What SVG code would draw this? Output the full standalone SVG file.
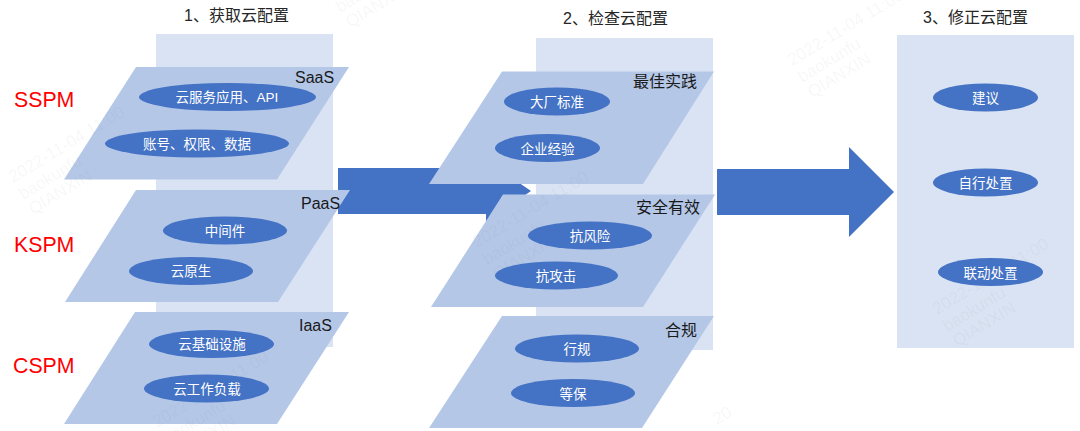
<svg xmlns="http://www.w3.org/2000/svg" width="1080" height="431" viewBox="0 0 1080 431">
<style>
text{font-family:"Liberation Sans","Noto Sans CJK SC",sans-serif}
.panel{fill:#dae3f3}
.plane{fill:#b4c7e7}
.oval{fill:#4472c4}
.arrow{fill:#4472c4}
.otxt{font-size:13.500px;fill:#fff;text-anchor:middle}
.title{font-size:16px;fill:#262626}
.lbl{font-size:16px;fill:#1a1a1a}
.pm{font-size:21.300px;fill:#ff0000}
.wm{font-size:17px;fill:#808080;fill-opacity:.07}
</style>
<defs>
<g id="mark">
<text class="wm" transform="rotate(-31)">2022-11-04 11:00</text>
<text class="wm" transform="translate(10 17) rotate(-31)">baokunfu</text>
<text class="wm" transform="translate(20 32) rotate(-31)">QIANXIN</text>
</g>
</defs>
<rect id="panel1" class="panel" x="156" y="34" width="177" height="313"/>
<rect id="panel2" class="panel" x="536" y="38" width="177" height="312"/>
<rect id="panel3" class="panel" x="897" y="35" width="177" height="313"/>
<g id="connectors">
<polygon class="arrow" points="338,168 486,168 486,160 531,191 486,222 486,214 338,214"/>
<polygon class="arrow" points="717,169 849,169 849,147 894,192 849,237 849,215 717,215"/>
</g>
<g id="saas"><polygon class="plane" points="136,67 349,67 277,179.500 64,179.500"/><text class="lbl" x="295" y="83">SaaS</text></g>
<g id="paas"><polygon class="plane" points="136,190 350,190 278,302 65,302"/><text class="lbl" x="301" y="209">PaaS</text></g>
<g id="iaas"><polygon class="plane" points="135,312 349,312 277,424 64,424"/><text class="lbl" x="299" y="331">IaaS</text></g>
<g id="best"><polygon class="plane" points="502,71.500 714,71.500 643,184 429,184"/><text class="lbl" x="633" y="87">最佳实践</text></g>
<g id="safe"><polygon class="plane" points="503,194.500 715,194.500 643,307 431,307"/><text class="lbl" x="636" y="213">安全有效</text></g>
<g id="comply"><polygon class="plane" points="502,316 714,316 642,428 429,428"/><text class="lbl" x="665" y="336">合规</text></g>
<g id="watermarks">
<use href="#mark" x="13" y="183"/>
<use href="#mark" x="330" y="-4"/>
<use href="#mark" x="477" y="248"/>
<use href="#mark" x="792" y="66"/>
<use href="#mark" x="937" y="315"/>
<use href="#mark" x="157" y="428"/>
<text class="wm" transform="translate(717 425) rotate(-31)">20</text>
</g>
<g id="n1"><ellipse class="oval" cx="227.500" cy="97" rx="88.500" ry="14"/><text class="otxt" x="227" y="101.500">云服务应用、API</text></g>
<g id="n2"><ellipse class="oval" cx="197" cy="143.500" rx="92" ry="14"/><text class="otxt" x="197" y="148.500">账号、权限、数据</text></g>
<g id="n3"><ellipse class="oval" cx="225" cy="230.500" rx="62" ry="14"/><text class="otxt" x="225" y="235.500">中间件</text></g>
<g id="n4"><ellipse class="oval" cx="191" cy="271" rx="62" ry="14"/><text class="otxt" x="191" y="276">云原生</text></g>
<g id="n5"><ellipse class="oval" cx="211.500" cy="344" rx="62.500" ry="14"/><text class="otxt" x="212" y="349">云基础设施</text></g>
<g id="n6"><ellipse class="oval" cx="206.500" cy="388.500" rx="62.500" ry="14"/><text class="otxt" x="207" y="393.500">云工作负载</text></g>
<g id="n7"><ellipse class="oval" cx="557" cy="101.500" rx="53" ry="14"/><text class="otxt" x="557" y="107">大厂标准</text></g>
<g id="n8"><ellipse class="oval" cx="547.500" cy="148" rx="52.500" ry="14"/><text class="otxt" x="547.500" y="153.500">企业经验</text></g>
<g id="n9"><ellipse class="oval" cx="590" cy="235.500" rx="62" ry="14"/><text class="otxt" x="590" y="241">抗风险</text></g>
<g id="n10"><ellipse class="oval" cx="556.500" cy="275.500" rx="61.500" ry="14"/><text class="otxt" x="556" y="281">抗攻击</text></g>
<g id="n11"><ellipse class="oval" cx="577" cy="348.500" rx="62" ry="14"/><text class="otxt" x="577" y="354">行规</text></g>
<g id="n12"><ellipse class="oval" cx="573" cy="393" rx="62" ry="14"/><text class="otxt" x="573" y="398.500">等保</text></g>
<g id="n13"><ellipse class="oval" cx="985.500" cy="97.500" rx="52.500" ry="14"/><text class="otxt" x="985.500" y="103">建议</text></g>
<g id="n14"><ellipse class="oval" cx="985.500" cy="182.500" rx="52.500" ry="14"/><text class="otxt" x="985.500" y="188">自行处置</text></g>
<g id="n15"><ellipse class="oval" cx="990.500" cy="272" rx="52.500" ry="14"/><text class="otxt" x="990.500" y="277.500">联动处置</text></g>
<text class="title" x="184" y="21">1、获取云配置</text>
<text class="title" x="563" y="24">2、检查云配置</text>
<text class="title" x="923" y="23">3、修正云配置</text>
<text class="pm" x="14" y="107">SSPM</text>
<text class="pm" x="14" y="252">KSPM</text>
<text class="pm" x="13" y="373">CSPM</text>
</svg>
